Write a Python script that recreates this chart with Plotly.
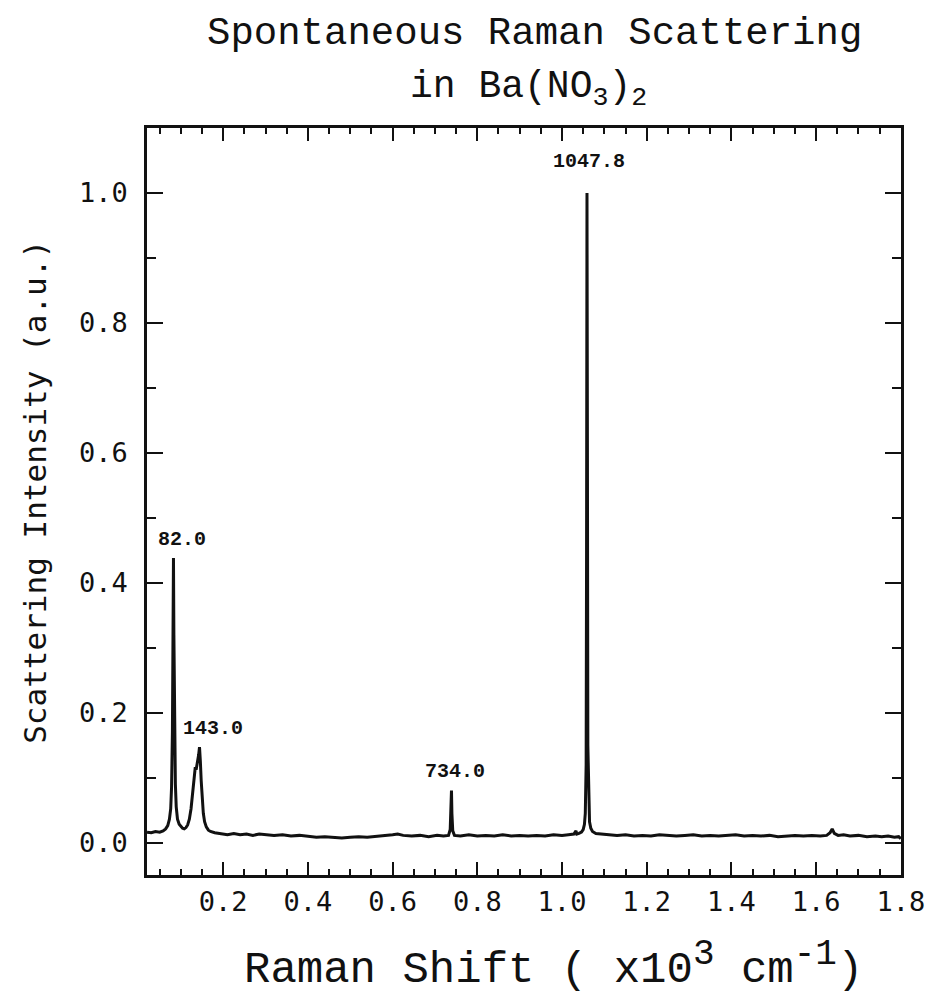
import plotly.graph_objects as go

# Raman shift (x10^3 cm^-1) and normalized intensity
shift = [0.020, 0.030, 0.040, 0.050, 0.058, 0.064, 0.069, 0.073, 0.076, 0.078,
         0.080, 0.0815, 0.0825, 0.0835, 0.085, 0.087, 0.089, 0.092, 0.096, 0.100,
         0.104, 0.108, 0.112, 0.116, 0.120, 0.124, 0.128, 0.131, 0.134, 0.136,
         0.138, 0.140, 0.142, 0.144, 0.145, 0.146, 0.148, 0.150, 0.153, 0.156,
         0.160, 0.165, 0.170, 0.180, 0.195, 0.210, 0.225, 0.240, 0.255, 0.270,
         0.285, 0.300, 0.320, 0.340, 0.360, 0.380, 0.400, 0.420, 0.440, 0.460,
         0.480, 0.500, 0.520, 0.540, 0.560, 0.580, 0.600, 0.612, 0.625, 0.645,
         0.665, 0.685, 0.705, 0.720, 0.732, 0.736, 0.738, 0.739, 0.740, 0.742,
         0.746, 0.760, 0.780, 0.800, 0.820, 0.840, 0.860, 0.880, 0.900, 0.920,
         0.940, 0.960, 0.980, 1.000, 1.015, 1.028, 1.033, 1.035, 1.040, 1.046,
         1.050, 1.053, 1.055, 1.057, 1.058, 1.059, 1.060, 1.061, 1.063, 1.065,
         1.068, 1.072, 1.080, 1.095, 1.110, 1.130, 1.150, 1.170, 1.190, 1.210,
         1.230, 1.250, 1.270, 1.290, 1.310, 1.330, 1.350, 1.370, 1.390, 1.410,
         1.430, 1.450, 1.470, 1.490, 1.510, 1.530, 1.550, 1.570, 1.590, 1.610,
         1.625, 1.633, 1.638, 1.643, 1.652, 1.665, 1.680, 1.700, 1.720, 1.740,
         1.755, 1.770, 1.785, 1.795, 1.800]
intensity = [0.016, 0.015, 0.017, 0.016, 0.018, 0.021, 0.026, 0.036, 0.052, 0.085,
             0.170, 0.300, 0.438, 0.320, 0.160, 0.090, 0.055, 0.036, 0.028, 0.024,
             0.022, 0.021, 0.023, 0.027, 0.036, 0.052, 0.075, 0.098, 0.116, 0.112,
             0.118, 0.125, 0.135, 0.147, 0.140, 0.125, 0.095, 0.068, 0.045, 0.032,
             0.024, 0.019, 0.017, 0.015, 0.014, 0.012, 0.014, 0.012, 0.013, 0.011,
             0.013, 0.012, 0.011, 0.012, 0.010, 0.011, 0.009, 0.008, 0.009, 0.008,
             0.007, 0.008, 0.009, 0.008, 0.009, 0.010, 0.012, 0.013, 0.011, 0.010,
             0.011, 0.009, 0.011, 0.010, 0.011, 0.020, 0.050, 0.080, 0.045, 0.018,
             0.011, 0.010, 0.012, 0.010, 0.011, 0.010, 0.012, 0.010, 0.011, 0.010,
             0.011, 0.010, 0.012, 0.011, 0.012, 0.013, 0.018, 0.013, 0.014, 0.016,
             0.020, 0.028, 0.045, 0.120, 0.450, 1.000, 0.600, 0.150, 0.055, 0.032,
             0.022, 0.017, 0.014, 0.013, 0.012, 0.011, 0.012, 0.010, 0.011, 0.010,
             0.012, 0.011, 0.010, 0.011, 0.012, 0.010, 0.011, 0.010, 0.011, 0.012,
             0.010, 0.011, 0.010, 0.011, 0.009, 0.010, 0.011, 0.010, 0.011, 0.010,
             0.011, 0.015, 0.021, 0.014, 0.011, 0.012, 0.010, 0.011, 0.009, 0.010,
             0.009, 0.010, 0.008, 0.009, 0.006]

peak_labels = ["82.0", "143.0", "734.0", "1047.8"]
label_x = [0.103, 0.176, 0.747, 1.063]
label_y = [0.466, 0.176, 0.110, 1.048]

x_tick_vals = [0.2, 0.4, 0.6, 0.8, 1.0, 1.2, 1.4, 1.6, 1.8]
x_tick_text = ["0.2", "0.4", "0.6", "0.8", "1.0", "1.2", "1.4", "1.6", "1.8"]
y_tick_vals = [0.0, 0.2, 0.4, 0.6, 0.8, 1.0]
y_tick_text = ["0.0", "0.2", "0.4", "0.6", "0.8", "1.0"]

MONO = "Courier New, Liberation Mono, monospace"
SANS = "DejaVu Sans Mono, monospace"

fig = go.Figure()
fig.add_trace(go.Scatter(x=shift, y=intensity, mode="lines",
                         line=dict(color="#111111", width=3),
                         showlegend=False, hoverinfo="skip"))

annotations = []
for t, xv, yv in zip(peak_labels, label_x, label_y):
    annotations.append(dict(x=xv, y=yv, xref="x", yref="y", text="<b>" + t + "</b>",
                            showarrow=False, font=dict(family=MONO, size=20, color="#111"),
                            xanchor="center", yanchor="middle"))

sup = '<sup><span style="font-size:36px">{}</span></sup>'
annotations += [
    dict(x=0.514, y=1.126, xref="paper", yref="paper", text="Spontaneous Raman Scattering",
         showarrow=False, font=dict(family=MONO, size=39, color="#111"),
         xanchor="center", yanchor="middle"),
    dict(x=0.506, y=1.052, xref="paper", yref="paper",
         text="in Ba(NO<sub>3</sub>)<sub>2</sub>",
         showarrow=False, font=dict(family=MONO, size=38, color="#111"),
         xanchor="center", yanchor="middle"),
    dict(x=0.539, y=-0.12, xref="paper", yref="paper",
         text="Raman Shift ( x10" + sup.format("3") + " cm" + sup.format("-1") + ")",
         showarrow=False, font=dict(family=MONO, size=44, color="#111"),
         xanchor="center", yanchor="middle"),
    dict(x=-0.1485, y=0.513, xref="paper", yref="paper",
         text="Scattering Intensity (a.u.)", textangle=-90,
         showarrow=False, font=dict(family=SANS, size=31, color="#111"),
         xanchor="center", yanchor="middle"),
]

axis_common = dict(showline=True, linewidth=2.5, linecolor="#111", mirror="ticks",
                   ticks="inside", tickcolor="#111", tickwidth=2,
                   showgrid=False, zeroline=False, automargin=False,
                   ticklabeloverflow="allow",
                   tickfont=dict(family=SANS, size=27, color="#111"))

fig.update_layout(
    width=925, height=1001,
    margin=dict(l=147, r=24, t=128, b=126),
    paper_bgcolor="white", plot_bgcolor="white",
    xaxis=dict(range=[0.02, 1.8005], tickmode="array", tickvals=x_tick_vals,
               ticktext=x_tick_text, ticklen=13, ticklabelstandoff=1,
               minor=dict(ticks="inside", ticklen=6, tickwidth=1.5, tickcolor="#111",
                          tick0=0, dtick=0.05),
               **axis_common),
    yaxis=dict(range=[-0.05, 1.1], tickmode="array", tickvals=y_tick_vals,
               ticktext=y_tick_text, ticklen=16, ticklabelstandoff=11,
               minor=dict(ticks="inside", ticklen=9, tickwidth=1.5, tickcolor="#111",
                          tick0=0, dtick=0.1),
               **axis_common),
    annotations=annotations,
)

fig.write_html("out.html")
